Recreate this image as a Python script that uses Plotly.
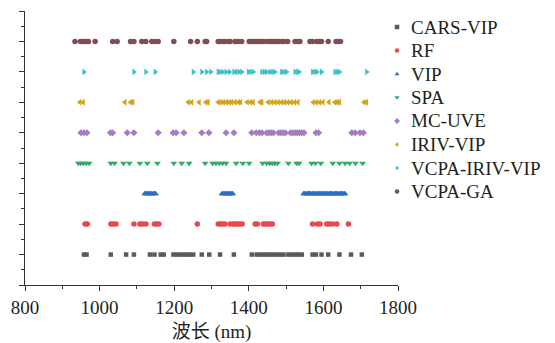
import plotly.graph_objects as go

series_names = ["CARS-VIP", "RF", "VIP", "SPA", "MC-UVE", "IRIV-VIP", "VCPA-IRIV-VIP", "VCPA-GA"]
row_levels = [1, 2, 3, 4, 5, 6, 7, 8]

cars_vip = [958, 965, 1030, 1071, 1092, 1135, 1147, 1164, 1172, 1198, 1207, 1216, 1225, 1234, 1242,
            1251, 1274, 1294, 1323, 1360, 1408, 1421, 1430, 1439, 1448, 1457, 1466, 1475, 1484, 1493,
            1506, 1515, 1524, 1533, 1542, 1571, 1580, 1595, 1613, 1643, 1674, 1703]
rf = [961, 967, 1030, 1037, 1044, 1092, 1108, 1115, 1124, 1147, 1153, 1159, 1262, 1318, 1324, 1330,
      1336, 1350, 1358, 1364, 1370, 1376, 1382, 1417, 1423, 1439, 1445, 1451, 1457, 1463, 1571, 1584,
      1591, 1609, 1616, 1625, 1636, 1667]
vip = [1121, 1124, 1127, 1131, 1134, 1137, 1140, 1144, 1147, 1150,
       1328, 1331, 1334, 1338, 1341, 1344, 1347, 1351, 1354, 1357,
       1547, 1550, 1553, 1557, 1560, 1563, 1566, 1570, 1573, 1576, 1580, 1583, 1586, 1589, 1593,
       1596, 1599, 1602, 1606, 1609, 1612, 1616, 1619, 1622, 1625, 1629, 1632, 1635, 1638, 1642,
       1645, 1648, 1651, 1655, 1658]
spa = [943, 949, 956, 964, 972, 1030, 1040, 1064, 1080, 1108, 1128, 1155, 1199, 1220, 1240, 1283,
       1303, 1312, 1321, 1330, 1339, 1366, 1384, 1401, 1437, 1448, 1456, 1463, 1470, 1477, 1506,
       1528, 1535, 1568, 1578, 1593, 1625, 1643, 1658, 1670, 1686, 1705]
mc_uve = [950, 958, 966, 1029, 1035, 1074, 1092, 1157, 1197, 1205, 1226, 1274, 1293, 1339, 1360,
          1408, 1420, 1428, 1435, 1448, 1454, 1460, 1466, 1480, 1486, 1492, 1498, 1512, 1518, 1524,
          1530, 1536, 1542, 1548, 1580, 1587, 1676, 1685, 1698, 1707]
iriv_vip = [947, 956, 1068, 1083, 1089, 1238, 1247, 1267, 1285, 1291, 1318, 1325, 1332, 1340, 1347,
            1354, 1363, 1372, 1378, 1396, 1405, 1412, 1430, 1435, 1452, 1461, 1470, 1479, 1488, 1496,
            1505, 1514, 1523, 1532, 1573, 1581, 1590, 1599, 1615, 1631, 1637, 1643, 1709, 1716]
vcpa_iriv_vip = [958, 1092, 1124, 1149, 1251, 1274, 1287, 1298, 1318, 1323, 1330, 1339, 1348, 1360,
                 1367, 1374, 1381, 1399, 1405, 1412, 1435, 1442, 1448, 1457, 1464, 1470, 1488, 1494,
                 1501, 1524, 1530, 1535, 1571, 1577, 1583, 1595, 1631, 1637, 1643, 1716]
vcpa_ga = [934, 949, 958, 964, 970, 988, 1035, 1047, 1083, 1092, 1113, 1124, 1140, 1148, 1157, 1199,
           1244, 1262, 1283, 1287, 1318, 1323, 1330, 1336, 1345, 1350, 1363, 1372, 1381, 1401, 1408,
           1414, 1421, 1428, 1435, 1439, 1448, 1455, 1461, 1468, 1475, 1482, 1488, 1494, 1504, 1524,
           1531, 1537, 1564, 1571, 1582, 1589, 1595, 1613, 1634, 1640, 1646]

series_values = [cars_vip, rf, vip, spa, mc_uve, iriv_vip, vcpa_iriv_vip, vcpa_ga]
x_tick_vals = [800, 1000, 1200, 1400, 1600, 1800]
x_tick_text = ["800", "1000", "1200", "1400", "1600", "1800"]
x_title = "波长 (nm)"

colors = ["#5a5a5a", "#e8484b", "#2f6ec1", "#36a86a", "#a57cc4", "#d4a218", "#3ec0c8", "#7e4f50"]
symbols = ["square", "circle", "triangle-up", "triangle-down", "diamond", "triangle-left",
           "triangle-right", "circle"]
sizes = [4.5, 5.5, 6, 6, 5.5, 6, 6, 5.5]

fig = go.Figure()
for name, vals, lvl, c, s, sz in zip(series_names, series_values, row_levels, colors, symbols, sizes):
    fig.add_trace(go.Scatter(
        x=vals, y=[lvl] * len(vals), mode="markers", name=name,
        marker=dict(symbol=s, color=c, size=sz, line=dict(width=0)),
        showlegend=False, cliponaxis=False,
    ))

# manual legend (markers on an auxiliary axis, labels as annotations)
W, H = 555, 343
ml, mr, mt, mb = 25, 157, 11, 58
pw, ph = W - ml - mr, H - mt - mb
leg_top_px, leg_step = 27.0, 23.5
for i, (name, c, s) in enumerate(zip(series_names, colors, symbols)):
    fig.add_trace(go.Scatter(
        x=[0], y=[i], mode="markers", xaxis="x2", yaxis="y2",
        marker=dict(symbol=s, color=c, size=4.5, line=dict(width=0)),
        showlegend=False, cliponaxis=False, hoverinfo="skip",
    ))
    py = leg_top_px + i * leg_step
    fig.add_annotation(
        x=(409 - ml) / pw, y=(H - mb - py) / ph, xref="paper", yref="paper",
        text=name, showarrow=False, xanchor="left", yanchor="middle",
        font=dict(family="Liberation Serif", size=19, color="#231f20"),
    )

# auxiliary axis geometry for the legend markers
y2_dom = [0.3, 1.0]
dom_top_px = mt
dom_bot_px = H - mb - y2_dom[0] * ph
y2_top_val = (dom_top_px - leg_top_px) / leg_step
y2_bot_val = (dom_bot_px - leg_top_px) / leg_step

axis_col = "#333333"
fig.update_layout(
    width=W, height=H,
    margin=dict(l=ml, r=mr, t=mt, b=mb, autoexpand=False),
    paper_bgcolor="white", plot_bgcolor="white",
    showlegend=False,
    xaxis=dict(
        range=[800, 1800], tickvals=x_tick_vals, ticktext=x_tick_text,
        ticks="outside", ticklen=5, tickwidth=1, tickcolor=axis_col,
        minor=dict(dtick=100, tick0=800, ticks="outside", ticklen=3, tickwidth=1, tickcolor=axis_col),
        showline=True, linecolor=axis_col, linewidth=1, showgrid=False, zeroline=False,
        tickfont=dict(family="Liberation Serif", size=19, color="#231f20"),
        title=dict(text=x_title, standoff=7,
                   font=dict(family="Liberation Serif, Noto Sans CJK SC", size=19, color="#231f20")),
        automargin=False,
    ),
    yaxis=dict(
        range=[0, 9], tickvals=list(range(0, 10)), showticklabels=False,
        ticks="outside", ticklen=5, tickwidth=1, tickcolor=axis_col,
        minor=dict(dtick=0.5, tick0=0, ticks="outside", ticklen=3, tickwidth=1, tickcolor=axis_col),
        showline=True, linecolor=axis_col, linewidth=1, showgrid=False, zeroline=False,
        automargin=False,
    ),
    xaxis2=dict(domain=[0.98, 1.0], range=[-0.87, 0.13], visible=False, anchor="y2"),
    yaxis2=dict(domain=y2_dom, range=[y2_bot_val, y2_top_val], visible=False, anchor="x2"),
)

fig.write_html("out.html")
